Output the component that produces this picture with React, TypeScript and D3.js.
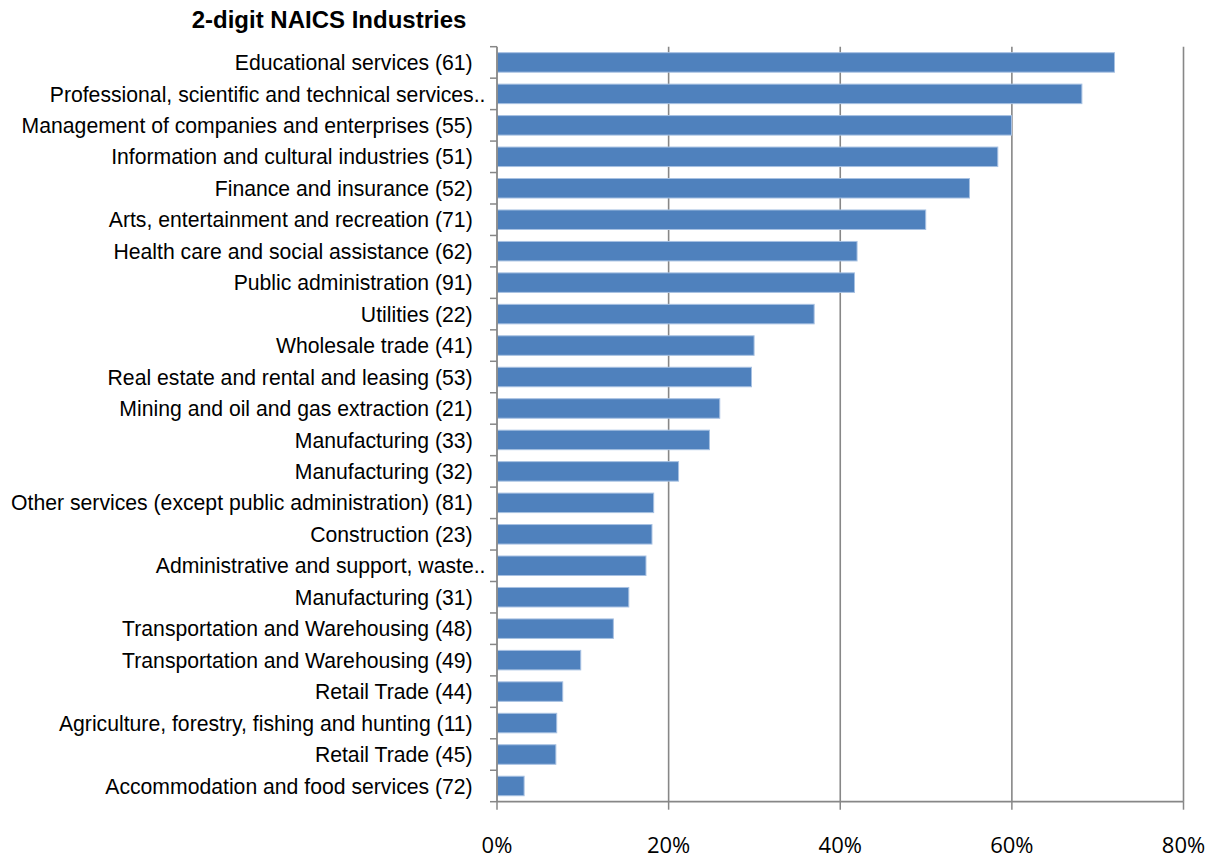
import React from "react";
import * as d3 from "d3";

const categories: string[] = [
  "Educational services (61)",
  "Professional, scientific and technical services..",
  "Management of companies and enterprises (55)",
  "Information and cultural industries (51)",
  "Finance and insurance (52)",
  "Arts, entertainment and recreation (71)",
  "Health care and social assistance (62)",
  "Public administration (91)",
  "Utilities (22)",
  "Wholesale trade (41)",
  "Real estate and rental and leasing (53)",
  "Mining and oil and gas extraction (21)",
  "Manufacturing (33)",
  "Manufacturing (32)",
  "Other services (except public administration) (81)",
  "Construction (23)",
  "Administrative and support, waste..",
  "Manufacturing (31)",
  "Transportation and Warehousing (48)",
  "Transportation and Warehousing (49)",
  "Retail Trade (44)",
  "Agriculture, forestry, fishing and hunting (11)",
  "Retail Trade (45)",
  "Accommodation and food services (72)",
];

const values: number[] = [
  0.719, 0.681, 0.599, 0.583, 0.55, 0.499, 0.419, 0.416, 0.369, 0.299, 0.296, 0.259,
  0.247, 0.211, 0.182, 0.18, 0.173, 0.153, 0.135, 0.097, 0.076, 0.069, 0.068, 0.031,
];

const xTicks: number[] = [0, 0.2, 0.4, 0.6, 0.8];
const title = "2-digit NAICS Industries";

export default function App() {
  const W = 1215;
  const H = 858;
  const left = 497;
  const right = 1183.5;
  const top = 46.7;
  const bottom = 801.7;

  const x = d3.scaleLinear().domain([0, 0.8]).range([left, right]);
  const y = d3
    .scaleBand<string>()
    .domain(categories)
    .range([top, bottom])
    .paddingInner(0.38)
    .paddingOuter(0.19);

  const step = (bottom - top) / categories.length;
  const boundaries = d3.range(categories.length + 1).map((i) => top + i * step);
  const grey = "#878787";
  const fmt = d3.format(".0%");

  return (
    <svg
      width={W}
      height={H}
      style={{ position: "absolute", left: 0, top: 0, background: "#fff" }}
    >
      <rect width={W} height={H} fill="#fff" />
      <text
        x={329}
        y={27.7}
        textAnchor="middle"
        fontFamily="Liberation Sans, Arial, sans-serif"
        fontWeight="bold"
        fontSize={24}
        fill="#000"
      >
        {title}
      </text>

      {/* gridlines */}
      {xTicks.slice(1).map((t) => (
        <line key={"g" + t} x1={x(t)} x2={x(t)} y1={top} y2={bottom} stroke={grey} strokeWidth={1.6} />
      ))}

      {/* bars */}
      {categories.map((c, i) => (
        <rect
          key={c}
          x={x(0) + 0.5}
          y={y(c)}
          width={x(values[i]) - x(0)}
          height={y.bandwidth()}
          fill="#4f81bd"
          stroke="#a7c1e2"
          strokeWidth={1}
        />
      ))}

      {/* left axis */}
      <line x1={left} x2={left} y1={top} y2={bottom} stroke={grey} strokeWidth={1.8} />
      {boundaries.map((b, i) => (
        <line key={"lt" + i} x1={left - 7} x2={left} y1={b} y2={b} stroke={grey} strokeWidth={1.5} />
      ))}

      {/* bottom axis */}
      <line x1={left} x2={right} y1={bottom} y2={bottom} stroke={grey} strokeWidth={1.8} />
      {xTicks.map((t) => (
        <line key={"bt" + t} x1={x(t)} x2={x(t)} y1={bottom} y2={bottom + 8} stroke={grey} strokeWidth={1.5} />
      ))}

      {/* category labels */}
      {categories.map((c) => (
        <text
          key={"l" + c}
          x={c.endsWith("..") ? 485.5 : 472.7}
          y={(y(c) as number) + y.bandwidth() / 2}
          dy="0.36em"
          textAnchor="end"
          fontFamily="Liberation Sans, Arial, sans-serif"
          fontSize={21.2}
          fill="#000"
        >
          {c}
        </text>
      ))}

      {/* x tick labels */}
      {xTicks.map((t) => (
        <text
          key={"xl" + t}
          x={x(t)}
          y={852.5}
          textAnchor="middle"
          fontFamily="Open Sans, sans-serif"
          fontSize={22}
          fill="#000"
        >
          {fmt(t)}
        </text>
      ))}
    </svg>
  );
}
